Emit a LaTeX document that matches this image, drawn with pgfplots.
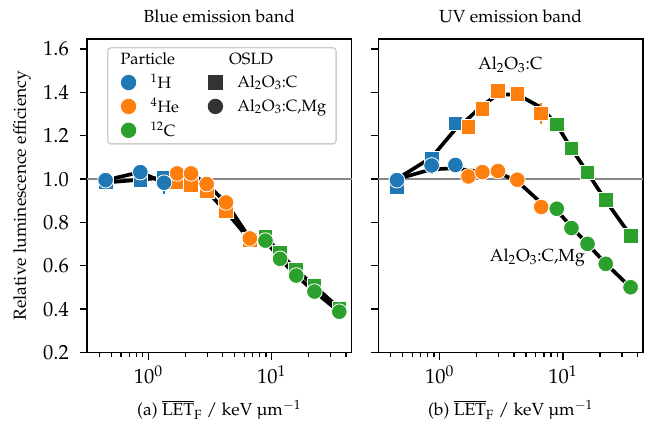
\documentclass[border=0pt]{standalone}
\usepackage[T1]{fontenc}
\usepackage{mathpazo}
\usepackage{pgfplots}
\pgfplotsset{compat=1.18}
\definecolor{tabblue}{HTML}{1F77B4}
\definecolor{taborange}{HTML}{FF7F0E}
\definecolor{tabgreen}{HTML}{2CA02C}
\definecolor{darkg}{HTML}{333333}
\definecolor{refline}{HTML}{888888}
\pgfplotsset{
  mysq/.style={only marks, mark=square*, mark size=4.4pt, color=#1, mark options={draw=white, fill=#1, line width=0.5pt}},
  myci/.style={only marks, mark=*, mark size=4.7pt, color=#1, mark options={draw=white, fill=#1, line width=0.5pt}},
  fitline/.style={black, line width=2.2pt, no marks},
  myeb/.style={color=#1, no marks, line width=1.2pt, error bars/y dir=both, error bars/y explicit, error bars/error mark=none, error bars/error bar style={line width=1.3pt, #1}},
}
\begin{document}
\fontsize{10.5}{12.6}\selectfont
\begin{tikzpicture}
\path[use as bounding box] (-52.2pt,-45.9pt) rectangle (336pt,211.5pt);
% ---------------- left panel
\begin{axis}[
    width=158.8pt, height=188.1pt, scale only axis,
    xmode=log, xmin=0.318, xmax=44.5, ymin=0.2, ymax=1.646,
    xtick={1,10},
    minor xtick={0.4,0.5,0.6,0.7,0.8,0.9,2,3,4,5,6,7,8,9,20,30,40},
    ytick={0.2,0.4,0.6,0.8,1.0,1.2,1.4,1.6},
    xtick pos=bottom, ytick pos=left, tick align=outside,
    major tick length=4.2pt, minor tick length=2.4pt,
    tick style={black, line width=0.8pt},
    axis line style={line width=0.9pt},
    tick label style={font=\fontsize{12.3}{14}\selectfont},
    y tick label style={xshift=-3pt, /pgf/number format/fixed, /pgf/number format/fixed zerofill, /pgf/number format/precision=1},
    clip=false,
  legend style={at={(0.0756,0.974)}, anchor=north west,
    draw=black!20, line width=0.8pt, rounded corners=2pt, fill=white,
    font=\fontsize{9.8}{11.5}\selectfont, row sep=0pt, inner xsep=4pt, inner ysep=1pt,
    /tikz/every odd column/.append style={column sep=7pt}},
  legend columns=2, legend cell align=left,
]
\addplot[refline, line width=0.9pt, no marks, forget plot] coordinates {(0.318,1) (44.5,1)};
\addplot[fitline, forget plot] coordinates {(0.45,0.984) (0.86,0.997) (1.34,1.007) (1.71,0.986) (2.22,0.972) (2.97,0.946) (4.26,0.85) (6.65,0.72) (8.9,0.735) (11.7,0.658) (15.8,0.581) (22.2,0.507) (35.3,0.404)};
\addplot[fitline, forget plot] coordinates {(0.45,0.995) (0.86,1.032) (1.34,0.983) (1.71,1.026) (2.22,1.026) (2.97,0.977) (4.26,0.892) (6.65,0.726) (8.9,0.716) (11.7,0.632) (15.8,0.555) (22.2,0.481) (35.3,0.388)};
\addplot[forget plot, myeb=tabblue] coordinates {(1.34,0.983) +- (0,0.05)};
\addplot[mysq=tabblue, forget plot] coordinates {(0.45,0.984) (0.86,0.997) (1.34,1.007)};
\addplot[mysq=taborange, forget plot] coordinates {(1.71,0.986) (2.22,0.972) (2.97,0.946) (4.26,0.85) (6.65,0.72)};
\addplot[mysq=tabgreen, forget plot] coordinates {(8.9,0.735) (11.7,0.658) (15.8,0.581) (22.2,0.507) (35.3,0.404)};
\addplot[myci=tabblue, forget plot] coordinates {(0.45,0.995) (0.86,1.032) (1.34,0.983)};
\addplot[myci=taborange, forget plot] coordinates {(1.71,1.026) (2.22,1.026) (2.97,0.977) (4.26,0.892) (6.65,0.726)};
\addplot[myci=tabgreen, forget plot] coordinates {(8.9,0.716) (11.7,0.632) (15.8,0.555) (22.2,0.481) (35.3,0.388)};
% legend
\addlegendimage{empty legend}\addlegendentry{\hspace*{-18pt}Particle}
\addlegendimage{empty legend}\addlegendentry{\hspace*{-5pt}OSLD}
\addlegendimage{only marks, mark=*, mark size=4.2pt, tabblue}\addlegendentry{$^{1}$H\hspace*{16pt}}
\addlegendimage{only marks, mark=square*, mark size=4pt, darkg}\addlegendentry{Al$_2$O$_3$:C}
\addlegendimage{only marks, mark=*, mark size=4.2pt, taborange}\addlegendentry{$^{4}$He}
\addlegendimage{only marks, mark=*, mark size=4.2pt, darkg}\addlegendentry{Al$_2$O$_3$:C,Mg}
\addlegendimage{only marks, mark=*, mark size=4.2pt, tabgreen}\addlegendentry{$^{12}$C}
\addlegendimage{empty legend}\addlegendentry{}
\node[anchor=base] at (rel axis cs:0.5,1.054) {Blue emission band};
\node[anchor=base] at (rel axis cs:0.5,-0.202) {(a) $\overline{\mathrm{LET}}_{\mathrm{F}}$ / keV \textmu m$^{-1}$};
\node[rotate=90, anchor=center] at (rel axis cs:-0.2456,0.5) {Relative luminescence efficiency};
\end{axis}
% ---------------- right panel
\begin{axis}[
    xshift=174.8pt,
    width=158.8pt, height=188.1pt, scale only axis,
    xmode=log, xmin=0.318, xmax=44.5, ymin=0.2, ymax=1.646,
    xtick={1,10},
    minor xtick={0.4,0.5,0.6,0.7,0.8,0.9,2,3,4,5,6,7,8,9,20,30,40},
    ytick={0.2,0.4,0.6,0.8,1.0,1.2,1.4,1.6}, yticklabels={},
    xtick pos=bottom, ytick pos=left, tick align=outside,
    major tick length=4.2pt, minor tick length=2.4pt,
    tick style={black, line width=0.8pt},
    axis line style={line width=0.9pt},
    tick label style={font=\fontsize{12.3}{14}\selectfont},
    clip=false,
]
\addplot[refline, line width=0.9pt, no marks] coordinates {(0.318,1) (44.5,1)};
\addplot[fitline] coordinates {(0.45,1.0) (0.86,1.10) (1.34,1.23) (1.71,1.28) (2.22,1.34) (2.97,1.39) (4.26,1.39) (6.65,1.33) (8.9,1.25) (11.7,1.14) (15.8,1.03) (22.2,0.90) (35.3,0.74)};
\addplot[fitline] coordinates {(0.45,1.0) (0.86,1.045) (1.34,1.05) (1.71,1.04) (2.22,1.035) (2.97,1.03) (4.26,0.99) (6.65,0.89) (8.9,0.855) (11.7,0.78) (15.8,0.70) (22.2,0.61) (35.3,0.50)};
\addplot[myeb=taborange] coordinates {(6.65,1.302) +- (0,0.05)};
\addplot[myeb=tabblue] coordinates {(0.86,1.063) +- (0,0.04)};
\addplot[mysq=tabblue] coordinates {(0.45,0.965) (0.86,1.094) (1.34,1.257)};
\addplot[mysq=taborange] coordinates {(1.71,1.242) (2.22,1.323) (2.97,1.406) (4.26,1.393) (6.65,1.302)};
\addplot[mysq=tabgreen] coordinates {(8.9,1.252) (11.7,1.141) (15.8,1.03) (22.2,0.903) (35.3,0.739)};
\addplot[myci=tabblue] coordinates {(0.45,0.995) (0.86,1.063) (1.34,1.065)};
\addplot[myci=taborange] coordinates {(1.71,1.012) (2.22,1.032) (2.97,1.037) (4.26,0.997) (6.65,0.871)};
\addplot[myci=tabgreen] coordinates {(8.9,0.863) (11.7,0.774) (15.8,0.701) (22.2,0.609) (35.3,0.501)};
\node at (axis cs:3.74,1.528) {Al$_2$O$_3$:C};
\node at (axis cs:6.19,0.636) {Al$_2$O$_3$:C,Mg};
\node[anchor=base] at (rel axis cs:0.5,1.054) {UV emission band};
\node[anchor=base] at (rel axis cs:0.5,-0.202) {(b) $\overline{\mathrm{LET}}_{\mathrm{F}}$ / keV \textmu m$^{-1}$};
\end{axis}
\end{tikzpicture}
\end{document}
